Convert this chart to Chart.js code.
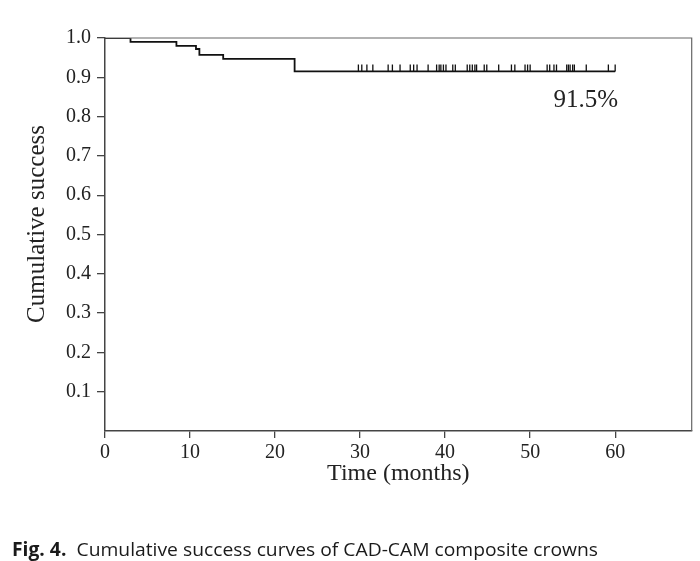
<!DOCTYPE html>
<html>
<head>
<meta charset="utf-8">
<script src="https://cdn.jsdelivr.net/npm/chart.js@4/dist/chart.umd.min.js"></script>
<style>
  html, body { margin: 0; padding: 0; background: #fff; }
  #wrap { width: 700px; height: 561px; }
</style>
</head>
<body>
<div id="wrap"><canvas id="c" width="700" height="561"></canvas></div>
<script>
// ---- Data ----
const eventTimes = [0, 3, 8.4, 10.7, 11.1, 13.9, 22.3, 60];          // months
const survival   = [1.0, 0.99, 0.98, 0.972, 0.957, 0.947, 0.915, 0.915]; // cumulative success
const censorTimes = [29.8, 30.2, 30.8, 31.5, 33.3, 33.8, 34.7, 35.9, 36.3, 36.7,
  38.0, 39.0, 39.3, 39.5, 39.8, 40.1, 40.9, 41.2, 42.6, 42.9, 43.2, 43.5, 43.7,
  44.6, 44.9, 46.3, 47.8, 48.2, 49.4, 49.7, 50.0, 52.0, 52.3, 52.8, 53.1, 54.3,
  54.5, 54.7, 55.0, 55.2, 56.6, 59.2, 60.0];
const xTickValues = [0, 10, 20, 30, 40, 50, 60];
const yTickValues = [0.1, 0.2, 0.3, 0.4, 0.5, 0.6, 0.7, 0.8, 0.9, 1.0];
const finalLabel = '91.5%';
const xTitle = 'Time (months)';
const yTitle = 'Cumulative success';
const captionBold = 'Fig. 4.';
const captionText = 'Cumulative success curves of CAD-CAM composite crowns';

function survivalAt(t) {
  let s = survival[0];
  for (let i = 0; i < eventTimes.length; i++) if (eventTimes[i] <= t) s = survival[i];
  return s;
}

const curveData = eventTimes.map((t, i) => ({ x: t, y: survival[i] }));
const censorData = censorTimes.map(t => ({ x: t, y: survivalAt(t) }));

const SERIF = '"Liberation Serif", "Times New Roman", serif';
const AXIS_COLOR = '#444';

const decorPlugin = {
  id: 'decor',
  afterDraw(chart) {
    const { ctx, chartArea: a, scales } = chart;
    ctx.save();
    // frame top & right
    ctx.strokeStyle = '#666';
    ctx.lineWidth = 1.2;
    ctx.beginPath();
    ctx.moveTo(a.left, a.top);
    ctx.lineTo(a.right, a.top);
    ctx.lineTo(a.right, a.bottom);
    ctx.stroke();
    // y-axis title
    ctx.save();
    ctx.translate(37, 224);
    ctx.rotate(-Math.PI / 2);
    ctx.fillStyle = '#222';
    ctx.font = '25px ' + SERIF;
    ctx.textAlign = 'center';
    ctx.textBaseline = 'middle';
    ctx.fillText(yTitle, 0, 0);
    ctx.restore();
    // final survival label
    ctx.fillStyle = '#222';
    ctx.font = '25px ' + SERIF;
    ctx.textAlign = 'right';
    ctx.textBaseline = 'middle';
    const lastT = eventTimes[eventTimes.length - 1];
    ctx.fillText(finalLabel, scales.x.getPixelForValue(lastT) + 3, scales.y.getPixelForValue(0.84));
    // caption
    const fs = 19;
    const boldFont = 'bold ' + fs + 'px "Open Sans", "Noto Sans", sans-serif';
    const regFont = fs + 'px "Open Sans", "Noto Sans", sans-serif';
    ctx.font = boldFont;
    const wb = ctx.measureText(captionBold).width;
    ctx.font = regFont;
    const wr = ctx.measureText(captionText).width;
    const gap = 10;
    const targetW = 586;
    const k = targetW / (wb + gap + wr);
    ctx.translate(12, 556);
    ctx.scale(k, 1);
    ctx.textAlign = 'left';
    ctx.textBaseline = 'alphabetic';
    ctx.fillStyle = '#1a1a1a';
    ctx.font = boldFont;
    ctx.fillText(captionBold, 0, 0);
    ctx.font = regFont;
    ctx.fillText(captionText, wb + gap, 0);
    ctx.restore();
  }
};

new Chart(document.getElementById('c'), {
  type: 'scatter',
  data: {
    datasets: [
      {
        label: 'Cumulative success',
        type: 'line',
        data: curveData,
        stepped: 'before',
        borderColor: '#111',
        borderWidth: 1.8,
        pointRadius: 0,
        fill: false,
        tension: 0,
        order: 2
      },
      {
        label: 'Censored',
        data: censorData,
        pointStyle: 'dash',
        rotation: 270,
        pointRadius: 7,
        pointHoverRadius: 7,
        borderColor: '#111',
        borderWidth: 1.3,
        backgroundColor: '#111',
        order: 1
      }
    ]
  },
  plugins: [decorPlugin],
  options: {
    responsive: false,
    animation: false,
    devicePixelRatio: 1,
    layout: { padding: { top: 38, right: 8, left: 0, bottom: 71 } },
    plugins: {
      legend: { display: false },
      tooltip: { enabled: false },
      title: { display: false }
    },
    scales: {
      x: {
        type: 'linear',
        min: 0,
        max: 69,
        afterBuildTicks(scale) { scale.ticks = xTickValues.map(v => ({ value: v })); },
        afterFit(scale) { scale.height = 59; },
        ticks: {
          color: '#222',
          font: { family: SERIF, size: 20 },
          padding: 3,
          maxRotation: 0,
          callback: v => String(v)
        },
        grid: { display: true, drawOnChartArea: false, drawTicks: true, tickLength: 7, color: AXIS_COLOR, lineWidth: 1.3 },
        border: { display: true, color: AXIS_COLOR, width: 1.5 },
        title: {
          display: true,
          text: xTitle,
          color: '#222',
          font: { family: SERIF, size: 24 },
          padding: { top: 0, bottom: 2 }
        }
      },
      y: {
        type: 'linear',
        min: 0,
        max: 1.0,
        afterBuildTicks(scale) { scale.ticks = yTickValues.map(v => ({ value: v })); },
        afterFit(scale) { scale.width = 105; },
        ticks: {
          color: '#222',
          font: { family: SERIF, size: 20 },
          padding: 6,
          callback: v => Number(v).toFixed(1)
        },
        grid: { display: true, drawOnChartArea: false, drawTicks: true, tickLength: 8, color: AXIS_COLOR, lineWidth: 1.3 },
        border: { display: true, color: AXIS_COLOR, width: 1.5 },
        title: {
          display: false,
          text: yTitle
        }
      }
    }
  }
});
</script>
</body>
</html>
